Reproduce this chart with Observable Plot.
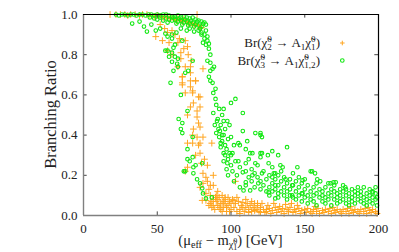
<!DOCTYPE html>
<html><head><meta charset="utf-8">
<script src="https://cdn.jsdelivr.net/npm/d3@7"></script>
<script src="https://cdn.jsdelivr.net/npm/@observablehq/plot@0.6"></script>
<style>body{margin:0;background:#fff}</style>
</head><body><div id="chart"></div>
<script>
const xTicks = [0, 50, 100, 150, 200];
const yTicks = [0, 0.2, 0.4, 0.6, 0.8, 1];
const yLabel = "Branching Ratio";

// Br(chi2 -> A1 chi1) : orange crosses
const br2Points = [
[18,1],[22,1],[25,1],[28,1],[30,0.995],[32,1],[35,1],[38,0.995],[40,1],[43,1],[45,0.995],[48,0.99],[50,0.995],[52,0.99],[54,0.985],[56,0.99],[58,0.98],[60,0.985],[62,0.975],[64,0.98],[66,0.97],[68,0.975],[70,0.965],[72,0.96],[74,0.955],[76,0.95],[78,0.945],[80,0.935],[63,0.97],[67,0.965],[71,0.955],[75,0.945],[79,0.93],[77,1],
[49,0.89],[53.5,0.87],[58,0.86],[69,0.87],[70.5,0.84],[66,0.78],[64,0.74],[72.5,0.74],[67,0.69],[76,0.67],[67,0.65],[74,0.61],[79,0.59],[81,0.73],[55,0.93],[60,0.92],[62,0.9],[65,0.88],[68,0.83],[71,0.8],[73,0.77],[57,0.91],[64,0.86],[52,0.95],[66,0.81],[57,0.82],[60,0.8],[69,0.74],[72.5,0.71],[67,0.66],[72.5,0.64],[74.5,0.56],
[67,0.69],[72.5,0.67],[76,0.67],[69,0.61],[74,0.62],[78,0.59],[72.5,0.54],[79,0.54],[77,0.52],[70.5,0.5],[77,0.49],[78,0.46],[79,0.44],[74.5,0.43],[74,0.4],[77,0.39],[81,0.39],[70.5,0.36],[79,0.36],[74,0.36],[78,0.35],[87,0.36],[79,0.31],[70.5,0.24],[69,0.22],[81,0.21],[88,0.2],[81,0.16],[79,0.14],[85,0.13],[88,0.15],[91,0.12],[83,0.11],[86,0.1],[89.5,0.09],[83,0.075],[85,0.05],[80.5,0.075],[86,0.15],[83,0.19],[84,0.17],[103,0.17],[94,0.1],[96,0.09],[76,0.3],[82,0.28],[84,0.25],[80,0.26],
[86,0.06],[87,0.04],[88,0.08],[89,0.03],[90,0.07],[91,0.05],[92,0.09],[93,0.03],[94,0.06],[95,0.04],[96,0.08],[97,0.02],[98,0.05],[99,0.07],[100,0.03],[88,0.05],[90,0.1],[92,0.04],[94,0.02],[96,0.06],[98,0.09],[100,0.06],[87,0.07],[91,0.08],[93,0.06],[95,0.07],[97,0.04],[99,0.02],
[101,0.08],[102,0.04],[103,0.06],[104,0.02],[105,0.07],[106,0.03],[107,0.05],[108,0.065],[109,0.02],[110,0.04],[111,0.06],[112,0.03],[113,0.05],[114,0.02],[115,0.04],[116,0.06],[117,0.03],[118,0.05],[119,0.02],[120,0.04],[121,0.06],[122,0.03],[102,0.075],[104,0.09],[106,0.01],[108,0.04],[110,0.08],[112,0.015],[114,0.07],[116,0.025],[118,0.06],[120,0.015],[125,0.05],[124,0.03],[123,0.015],
[124,0.02],[126,0.035],[127,0.01],[128,0.025],[130,0.04],[131,0.015],[132,0.03],[134,0.02],[135,0.035],[136,0.01],[138,0.03],[139,0.02],[140,0.04],[142,0.015],[143,0.03],[144,0.02],[146,0.035],[147,0.01],[148,0.025],[150,0.03],[151,0.015],[152,0.035],[154,0.02],[155,0.01],[156,0.03],[158,0.02],[159,0.035],[160,0.01],[162,0.025],[163,0.015],[164,0.03],[166,0.02],[167,0.035],[168,0.01],[170,0.025],[171,0.015],[172,0.03],[174,0.02],[175,0.01],[176,0.03],[178,0.02],[179,0.035],[180,0.01],[182,0.025],[183,0.015],[184,0.03],[186,0.02],[187,0.01],[188,0.03],[190,0.02],[191,0.035],[192,0.01],[194,0.025],[195,0.015],[196,0.03],[198,0.02],[199,0.01],[133,0.045],[145,0.05],[157,0.045],[169,0.04],[181,0.045],[193,0.04],[137,0.055],[141,0.06],[129,0.06]
];

// Br(chi3 -> A1 chi1,2) : green circles
const br3Points = [
[22,1],[24,0.995],[26,1],[28,1],[30,0.995],[32,1],[34,1],[36,0.995],[38,1],[40,1],[42,0.995],[44,1],[46,1],[48,0.995],[50,1],[52,0.995],[54,1],[56,1],[58,0.995],[60,0.99],[62,0.99],[64,0.995],[66,0.985],[68,0.99],[70,0.985],[72,0.98],[74,0.985],[76,0.975],[78,0.97],[80,0.965],[82,0.96],
[45,0.985],[48,0.98],[50,0.975],[52,0.985],[54,0.97],[56,0.98],[58,0.975],[60,0.97],[62,0.975],[64,0.965],[66,0.97],[68,0.96],[70,0.965],[72,0.955],[74,0.96],[76,0.95],[78,0.945],[80,0.94],[61,0.985],[65,0.98],[69,0.975],[73,0.97],[77,0.965],[81,0.955],[83,0.95],[57,0.96],[63,0.955],[67,0.95],[71,0.945],[75,0.94],[79,0.93],
[33,0.955],[38,0.965],[41,0.94],[43,0.915],[46,0.95],[49,0.92],[52,0.93],[55.5,0.905],[57,0.89],[60,0.9],[63,0.91],[67,0.87],[66,0.93],[70,0.92],[72,0.93],[75,0.915],[78,0.92],[80,0.9],[82,0.88],[84,0.87],[81,0.86],[83,0.85],[85,0.855],[80,0.91],[83,0.92],[82,0.9],[84,0.89],
[62,0.85],[57,0.82],[60,0.81],[62,0.79],[64,0.78],[60,0.765],[64,0.74],[61,0.72],[59,0.66],[66,0.6],[71,0.72],[61,0.835],[63.5,0.755],[69,0.71],[74,0.77],[60,0.88],[55.5,0.82],[58,0.79],
[70.5,0.52],[64.5,0.48],[67,0.46],[66,0.43],[67,0.41],[74,0.39],[70.5,0.33],[74,0.29],[74.5,0.24],[74.5,0.21],[69,0.22],[77,0.18],[79,0.16],[80.5,0.135],[83,0.085],[81,0.11],[70.5,0.28],[68,0.22],[80.5,0.26],[87,0.09],[72,0.27],[76,0.25],
[84,0.77],[86,0.76],[87.5,0.73],[85,0.69],[86,0.67],[87.5,0.66],[89.5,0.63],[88,0.61],[88.5,0.74],[86,0.72],[85,0.83],[86,0.8],
[89.5,0.58],[88,0.51],[91.5,0.43],[90,0.41],[96,0.35],[95,0.31],[97.5,0.26],[90,0.55],[92,0.53],[91,0.48],[93,0.45],[94,0.5],[92,0.39],[94,0.37],[93,0.34],[96,0.3],[98,0.28],[89,0.45],[90.5,0.47],[92.5,0.42],[95,0.4],[97,0.33],[99,0.31],[100,0.56],[103,0.58],[95,0.53],[95,0.47],[96,0.43],[94,0.4],[98,0.38],[97.5,0.47],[99,0.45],[100,0.39],[101,0.31],[105,0.36],[108,0.51],[105,0.27],[101,0.22],[108,0.215],[100,0.3],[103,0.27],[106,0.24],[102,0.35],[106,0.35],[110,0.33],[100,0.25],[104,0.2],[108.5,0.125],[110,0.165],[98,0.2],[102,0.17],[106,0.14],[93,0.36],[95,0.27],[97,0.23],
[116.5,0.41],[120,0.41],[120,0.4],[121,0.39],[111,0.37],[108,0.42],[114.5,0.31],[120,0.31],[128,0.32],[138,0.34],[132,0.3],[113,0.31],[121,0.31],[125,0.3],[110,0.26],[116.5,0.26],[125.5,0.26],[135,0.24],[145,0.24],[114.5,0.2],[121,0.21],[128,0.19],[137,0.18],[148.5,0.175],[118.5,0.16],[130,0.15],[141.5,0.15],[113,0.125],[125.5,0.115],[132,0.11],[141.5,0.1],[148.5,0.11],[130,0.085],[129,0.21],[133.5,0.25],[154,0.22],[158.5,0.18],[167.5,0.16],[171,0.165],[190,0.14],[198,0.14],[155,0.22],[157,0.21],[160.5,0.17],[169.5,0.165],[177.5,0.14],[196,0.115],[199,0.09],
[110,0.22],[110,0.15],[112,0.19],[112,0.28],[114,0.17],[114,0.23],[116,0.14],[116,0.21],[118,0.19],[118,0.25],[120,0.13],[120,0.17],[120,0.29],[122,0.22],[122,0.15],[124,0.18],[124,0.12],[126,0.2],[126,0.14],[126,0.1],[128,0.16],[128,0.24],[128,0.12],[130,0.18],[130,0.13],[130,0.21],[132,0.15],[132,0.09],[132,0.2],[134,0.17],[134,0.12],[134,0.22],[136,0.14],[136,0.1],[136,0.19],[138,0.16],[138,0.12],[138,0.08],[140,0.13],[140,0.18],[140,0.1],[142,0.15],[142,0.09],[142,0.21],[144,0.12],[144,0.17],[144,0.08],[146,0.14],[146,0.1],[146,0.19],[148,0.11],[148,0.16],[148,0.07],[150,0.13],[150,0.09],[150,0.18],[152,0.1],[152,0.15],[152,0.06],[154,0.12],[154,0.08],[156,0.14],[156,0.1],[156,0.07],[158,0.11],[158,0.16],[158,0.05],[160,0.09],[160,0.13],[162,0.12],[162,0.07],[162,0.1],[164,0.14],[164,0.09],[164,0.06],[166,0.11],[166,0.16],[166,0.08],[168,0.1],[168,0.13],[168,0.05],[170,0.12],[170,0.08],[170,0.15],[172,0.09],[172,0.11],[172,0.06],[174,0.13],[174,0.1],[174,0.07],[176,0.08],[176,0.12],[176,0.15],[178,0.1],[178,0.06],[178,0.13],[180,0.11],[180,0.08],[180,0.05],[182,0.09],[182,0.13],[182,0.07],[184,0.12],[184,0.1],[184,0.06],[186,0.08],[186,0.11],[186,0.14],[188,0.1],[188,0.07],[188,0.12],[190,0.09],[190,0.06],[192,0.11],[192,0.08],[192,0.05],[194,0.1],[194,0.13],[194,0.07],[196,0.12],[196,0.09],[196,0.06],[198,0.08],[198,0.11],[199,0.05]
];

// legend labels as rich-text parts: [text, kind]
const legendLabels = [
  [["Br(χ̃","n"],["0","sup"],["2","stsub"],[" → A","n"],["1","sub"],["χ̃","n"],["0","sup"],["1","stsub"],[")","n"]],
  [["Br(χ̃","n"],["0","sup"],["3","stsub"],[" → A","n"],["1","sub"],["χ̃","n"],["0","sup"],["1,2","stsub"],[")","n"]]
];

const ORANGE = "#ffa520", GREEN = "#11e811";
const FONT = "'Liberation Serif', 'DejaVu Serif', serif";

const plot = Plot.plot({
  width: 399, height: 252,
  marginLeft: 83, marginRight: 21, marginTop: 14, marginBottom: 37,
  x: {domain: [0, 200]},
  y: {domain: [0, 1]},
  style: {fontFamily: FONT, fontSize: "12px", color: "#222", background: "#fff"},
  marks: [
    Plot.dot(br2Points, {x: d => d[0], y: d => d[1], symbol: "plus", r: 2.3, stroke: ORANGE, strokeWidth: 1}),
    Plot.dot(br3Points, {x: d => d[0], y: d => d[1], r: 1.8, stroke: GREEN, strokeWidth: 1.1, fill: "none"}),
    Plot.ruleX(xTicks, {x: d => d, y1: 0, y2: 0.018, stroke: "#444"}),
    Plot.ruleX(xTicks, {x: d => d, y1: 1, y2: 0.982, stroke: "#444"}),
    Plot.ruleY(yTicks, {y: d => d, x1: 0, x2: 2.5, stroke: "#444"}),
    Plot.ruleY(yTicks, {y: d => d, x1: 200, x2: 197.5, stroke: "#444"}),
    Plot.ruleY([0], {stroke: "#808080", strokeWidth: 1.6}),
    Plot.ruleX([0], {stroke: "#808080", strokeWidth: 1.4}),
    Plot.ruleY([1], {stroke: "#000", strokeWidth: 1.2}),
    Plot.ruleX([200], {stroke: "#000", strokeWidth: 1.2}),
    Plot.axisX(xTicks, {tickSize: 0, tickPadding: 8, fontSize: 13, label: null}),
    Plot.axisY(yTicks, {tickSize: 0, tickPadding: 6, fontSize: 13, label: null})
  ]
});
document.getElementById("chart").appendChild(plot);

const svg = d3.select(plot);
function rich(parent, parts, size) {
  const small = size * 0.7;
  let level = 0;
  for (const [t, kind] of parts) {
    const ts = parent.append("tspan").text(t);
    let target = 0, dx = 0;
    if (kind === "n") { target = 0; ts.attr("font-size", size); }
    else if (kind === "sub") { target = 3; ts.attr("font-size", small); }
    else if (kind === "sup") { target = -5; ts.attr("font-size", small); }
    else if (kind === "stsub") { target = 3; ts.attr("font-size", small); dx = -small * 0.5; }
    ts.attr("dy", target - level);
    if (dx) ts.attr("dx", dx);
    level = target;
  }
}

// y label
svg.append("text")
  .attr("transform", "translate(56,114.5) rotate(-90)")
  .attr("text-anchor", "middle").attr("font-family", FONT).attr("font-size", 16.5).attr("fill", "#222")
  .text(yLabel);

// x label
const xl = svg.append("text").attr("x", 230.5).attr("y", 245)
  .attr("text-anchor", "middle").attr("font-family", FONT).attr("fill", "#222");
rich(xl, [["(μ","n"],["eff","sub"],[" − m","n"],["χ̃","sub"]], 14.5);
xl.append("tspan").attr("font-size", 8).attr("dy", -4.5).text("0");
xl.append("tspan").attr("font-size", 8).attr("dx", -4).attr("dy", 6).text("1");
xl.append("tspan").attr("font-size", 14.5).attr("dy", -4.5).text(") [GeV]");

// legend
legendLabels.forEach((parts, i) => {
  const yb = 47 + i * 17.5;
  const t = svg.append("text").attr("x", 320).attr("y", yb)
    .attr("text-anchor", "end").attr("font-family", FONT).attr("fill", "#222");
  rich(t, parts, 13);
  const cy = yb - 4;
  if (i === 0) {
    svg.append("path").attr("d", `M${340},${cy}h4.6M${342.3},${cy-2.3}v4.6`).attr("stroke", ORANGE).attr("fill", "none");
  } else {
    svg.append("circle").attr("cx", 342.3).attr("cy", cy).attr("r", 1.8).attr("stroke", GREEN).attr("stroke-width", 1.1).attr("fill", "none");
  }
});
</script>
</body></html>
